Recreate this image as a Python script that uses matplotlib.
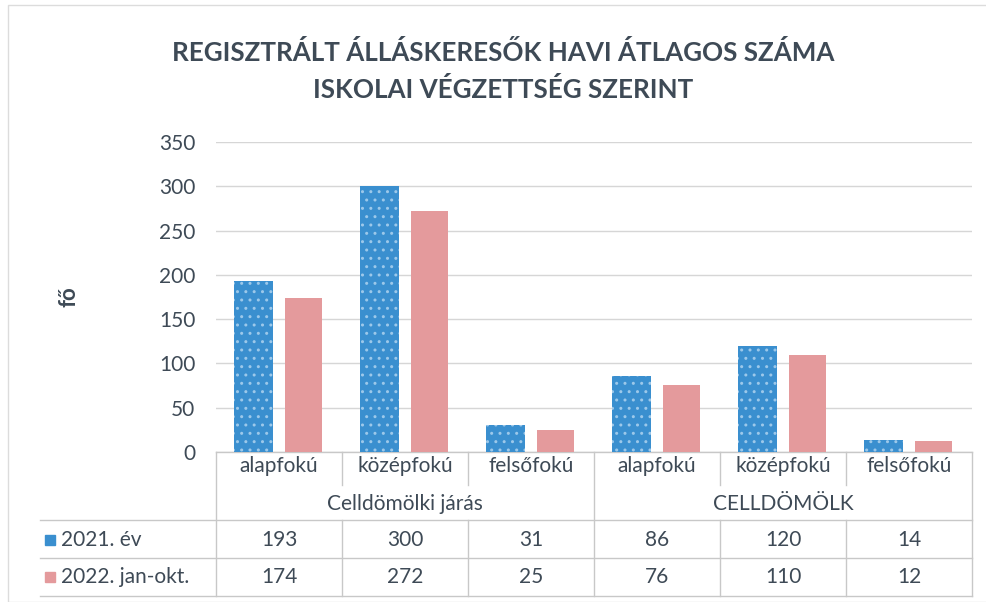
import matplotlib
matplotlib.use("Agg")
import matplotlib.pyplot as plt
from matplotlib.patches import Rectangle
from matplotlib.lines import Line2D

plt.rcParams['font.family'] = ['Lato', 'DejaVu Sans']
plt.rcParams['hatch.color'] = '#9cc8ea'
plt.rcParams['hatch.linewidth'] = 1.0

title = "REGISZTRÁLT ÁLLÁSKERESŐK HAVI ÁTLAGOS SZÁMA\nISKOLAI VÉGZETTSÉG SZERINT"
categories = ['alapfokú', 'középfokú', 'felsőfokú', 'alapfokú', 'középfokú', 'felsőfokú']
groups = ['Celldömölki járás', 'CELLDÖMÖLK']
series_names = ['2021. év', '2022. jan-okt.']
values_2021 = [193, 300, 31, 86, 120, 14]
values_2022 = [174, 272, 25, 76, 110, 12]

blue = '#3a8fcf'
pink = '#e49a9c'
txt = '#3e4a56'
grid = '#d6d6d6'

fig = plt.figure(figsize=(9.87, 6.02), dpi=100)
ax = fig.add_axes([216/987, 150/602, 756/987, 310/602])

x = list(range(len(categories)))
ax.bar([i - 0.205 for i in x], values_2021, width=0.31, color=blue, hatch='..', zorder=3)
ax.bar([i + 0.195 for i in x], values_2022, width=0.30, color=pink, zorder=3)

ax.set_xlim(-0.5, 5.5)
ax.set_ylim(0, 350)
ax.set_yticks(range(0, 351, 50))
ax.yaxis.grid(True, color=grid, lw=1)
ax.set_axisbelow(True)
for s in ax.spines.values():
    s.set_visible(False)
ax.tick_params(axis='y', length=0, labelsize=15, labelcolor=txt, pad=15)
ax.tick_params(axis='x', length=0, labelbottom=False)
ax.set_ylabel('fő', fontsize=16, color=txt, fontweight='bold', labelpad=57)

fig.text(0.51, 0.882, title, ha='center', va='center', fontsize=18.7, fontweight='bold',
         color=txt, linespacing=1.55)

# data table under the axis
tr = ax.get_xaxis_transform()
ta = ax.transAxes
lc = '#c8c8c8'

def hline(y, x0, x1):
    ax.add_line(Line2D([x0, x1], [y, y], transform=ta, color=lc, lw=1, clip_on=False))

def vline(xd, y0, y1):
    ax.add_line(Line2D([xd, xd], [y0, y1], transform=tr, color=lc, lw=1, clip_on=False))

y_cat, y_grp, y_r1, y_r2 = -0.045, -0.168, -0.284, -0.403
y_top, y_mid1, y_mid2, y_bot = 0.0, -0.219, -0.342, -0.465

hline(y_top, 0, 1)
for yy in (y_mid1, y_mid2, y_bot):
    hline(yy, -0.233, 1)
for b in (-0.5, 2.5, 5.5):
    vline(b, 0, y_bot)
for b in (0.5, 1.5, 3.5, 4.5):
    vline(b, 0, -0.105)
    vline(b, y_mid1, y_bot)

fs = 15
for i, c in enumerate(categories):
    ax.text(i, y_cat, c, transform=tr, ha='center', va='center', fontsize=fs, color=txt,
            clip_on=False)
for g, gi in enumerate(groups):
    ax.text(1 + 3 * g, y_grp, gi, transform=tr, ha='center', va='center', fontsize=fs,
            color=txt, clip_on=False)
for i in x:
    ax.text(i, y_r1, str(values_2021[i]), transform=tr, ha='center', va='center',
            fontsize=fs, color=txt, clip_on=False)
    ax.text(i, y_r2, str(values_2022[i]), transform=tr, ha='center', va='center',
            fontsize=fs, color=txt, clip_on=False)

for yy, name, col, h in ((y_r1, series_names[0], blue, '..'), (y_r2, series_names[1], pink, None)):
    ax.add_patch(Rectangle((-0.226, yy - 0.017), 0.013, 0.034, transform=ta, color=col,
                           hatch=h, clip_on=False))
    ax.text(-0.205, yy, name, transform=ta, ha='left', va='center', fontsize=fs,
            color=txt, clip_on=False)

# faint chart-area border
fig.add_artist(Rectangle((8/987, 0), 979/987, 597/602, transform=fig.transFigure,
                         fill=False, edgecolor='#dcdcdc', lw=1))

fig.savefig('out.png', dpi=100)
